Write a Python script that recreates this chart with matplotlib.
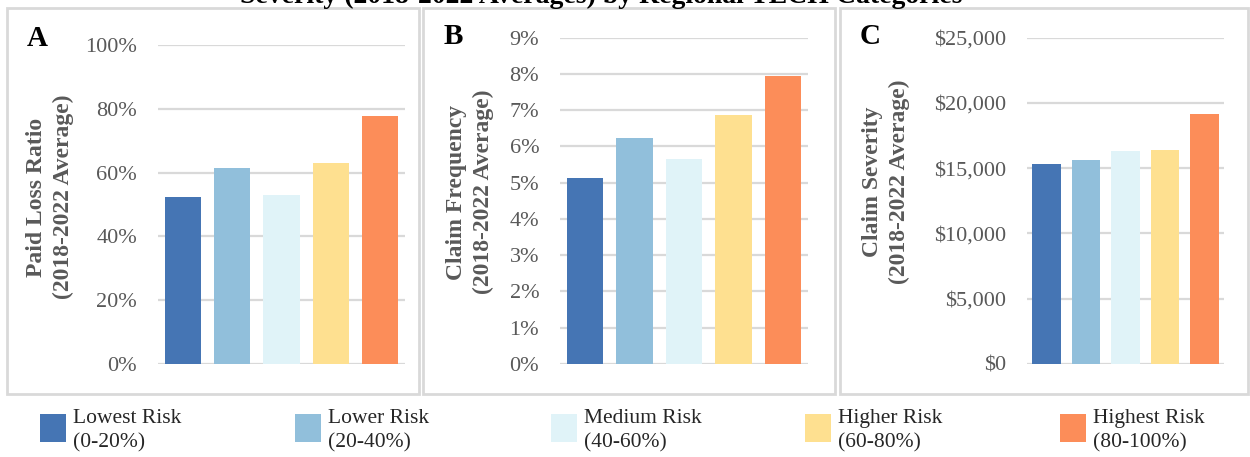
import matplotlib
matplotlib.use("Agg")
import matplotlib.pyplot as plt
from matplotlib.patches import Rectangle
from matplotlib.ticker import FuncFormatter

# data
categories = ["Lowest Risk\n(0-20%)", "Lower Risk\n(20-40%)", "Medium Risk\n(40-60%)",
              "Higher Risk\n(60-80%)", "Highest Risk\n(80-100%)"]
colors = ["#4575b4", "#91bfdb", "#e0f3f8", "#fee090", "#fc8d59"]
loss_ratio = [52.4, 61.5, 53.0, 63.1, 77.6]          # %
claim_freq = [5.12, 6.23, 5.65, 6.86, 7.95]          # %
claim_sev = [15350, 15630, 16320, 16420, 19180]      # $

title = "Severity (2018-2022 Averages) by Regional TECH Categories"

W, H = 1250, 457
plt.rcParams['font.family'] = ['Liberation Serif', 'DejaVu Serif']

fig = plt.figure(figsize=(W / 100, H / 100), dpi=100)


def px_box(x0, y0, x1, y1):
    # pixel box (top-left origin) -> figure fraction [left, bottom, width, height]
    return [x0 / W, 1 - y1 / H, (x1 - x0) / W, (y1 - y0) / H]


GRID = "#d9d9d9"
TICK = "#595959"

panels = [
    # letter, values, ylim, step, formatter, axes px box, ylabel, ylabel center, letter center, frame x
    ("A", loss_ratio, 100, 20, lambda v, p: f"{v:.0f}%", (158, 45, 405, 364),
     "Paid Loss Ratio\n(2018-2022 Average)", (50, 197), (37, 38), (7, 419)),
    ("B", claim_freq, 9, 1, lambda v, p: f"{v:.0f}%", (560, 37.7, 808, 364),
     "Claim Frequency\n(2018-2022 Average)", (470, 192), (453, 37), (423, 835)),
    ("C", claim_sev, 25000, 5000, lambda v, p: f"${v:,.0f}", (1027, 37.7, 1224, 364),
     "Claim Severity\n(2018-2022 Average)", (886, 182), (870, 36), (840, 1248)),
]

for letter, vals, top, step, fmt, box, ylab, ylab_xy, let_xy, frame in panels:
    # light gray frame around each panel
    fig.patches.append(Rectangle((frame[0] / W, 1 - 394 / H), (frame[1] - frame[0]) / W,
                                 (394 - 8) / H, transform=fig.transFigure, fill=False,
                                 edgecolor=GRID, lw=2, zorder=0))
    ax = fig.add_axes(px_box(*box))
    ax.bar(range(len(vals)), vals, width=0.73, color=colors, zorder=3)
    ax.set_xlim(-0.5, len(vals) - 0.5)
    ax.set_ylim(0, top)
    ax.set_yticks([step * i for i in range(int(round(top / step)) + 1)])
    ax.yaxis.set_major_formatter(FuncFormatter(fmt))
    ax.set_xticks([])
    ax.grid(axis='y', color=GRID, lw=1.6, zorder=0)
    ax.tick_params(axis='y', length=0, pad=15, labelsize=16, labelcolor=TICK)
    for s in ax.spines.values():
        s.set_visible(False)
    ax.set_facecolor('none')
    ax.set_axisbelow(True)

    fig.text(ylab_xy[0] / W, 1 - ylab_xy[1] / H, ylab, rotation=90, ha='center', va='center',
             multialignment='center', fontsize=17, fontweight='bold', color=TICK, linespacing=1.3)
    fig.text(let_xy[0] / W, 1 - let_xy[1] / H, letter, ha='center', va='center',
             fontsize=21, fontweight='bold', color='black')

# title, cut off at the top like in the reference
fig.text(601 / W, 1 - 3 / H, title, ha='center', va='baseline', fontsize=20,
         fontweight='bold', color='black')

# legend row
leg_x = [40, 295, 551, 805, 1060]
for x, c, lab in zip(leg_x, colors, categories):
    fig.patches.append(Rectangle((x / W, 1 - 442 / H), 26 / W, 28 / H,
                                 transform=fig.transFigure, facecolor=c, edgecolor='none'))
    fig.text((x + 33) / W, 1 - 431 / H, lab, ha='left', va='center', fontsize=15.5,
             color='#262626', linespacing=1.4)

fig.savefig("out.png", dpi=100)
